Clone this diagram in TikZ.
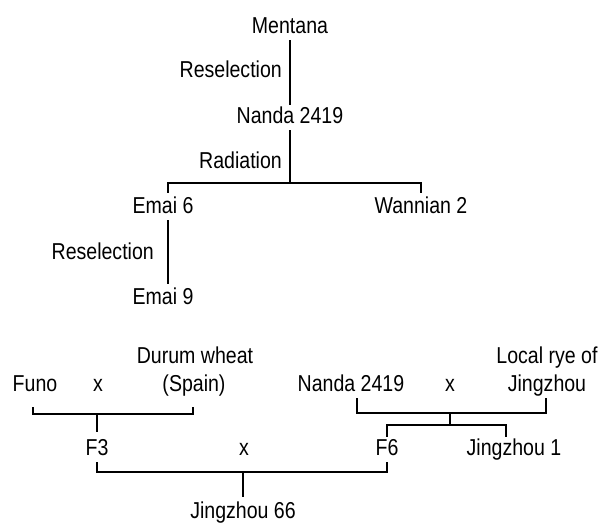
\documentclass[tikz,border=0pt]{standalone}
\usepackage{fontspec}
\setmainfont[FakeStretch=0.85]{Liberation Sans}
\begin{document}
\begin{tikzpicture}[x=1pt,y=-1pt,
  lbl/.style={font=\fontsize{23}{27}\selectfont, inner sep=3pt, text height=15pt, text depth=4pt, anchor=base},
  lble/.style={lbl, anchor=base east},
  link/.style={line width=2pt}]
\useasboundingbox (0,0) rectangle (606,525);
% top pedigree
\node[lbl] (mentana) at (290,33) {Mentana};
\node[lbl] (nanda) at (290,123) {Nanda 2419};
\node[lble] (resel1) at (285,77) {Reselection};
\node[lble] (rad) at (285,168) {Radiation};
\node[lbl] (emai6) at (163,213) {Emai 6};
\node[lbl] (wan2) at (421,213) {Wannian 2};
\node[lble] (resel2) at (157,259) {Reselection};
\node[lbl] (emai9) at (163,304) {Emai 9};
\coordinate (rj) at (290,183);
\draw[link] (mentana.south) -- (nanda.north);
\draw[link] (nanda.south) -- (rj);
\draw[link] ([xshift=5pt,yshift=2pt]emai6.north) |- (rj) -| ([yshift=2pt]wan2.north);
\draw[link] ([xshift=5pt]emai6.south) -- ([xshift=5pt,yshift=2pt]emai9.north);
% bottom pedigree
\node[lbl] (durum) at (195,363) {Durum wheat};
\node[lbl] (spain) at (194,391) {(Spain)};
\node[lbl] (funo) at (35,391) {Funo};
\node[lbl] (x1) at (98,391) {x};
\node[lbl] (nanda2) at (351,391) {Nanda 2419};
\node[lbl] (x2) at (450,391) {x};
\node[lbl] (localrye) at (547,363) {Local rye of};
\node[lbl] (jingzhou) at (547,391) {Jingzhou};
\node[lbl] (f3) at (97,455) {F3};
\node[lbl] (x3) at (244,455) {x};
\node[lbl] (f6) at (387,455) {F6};
\node[lbl] (jz1) at (514,455) {Jingzhou 1};
\node[lbl] (jz66) at (243,518) {Jingzhou 66};
\coordinate (j1) at (97,414);
\coordinate (j2) at (450,413);
\coordinate (j3) at (450,425);
\coordinate (j4) at (243,472);
\draw[link] ([xshift=-2pt,yshift=-9pt]funo.south) |- (j1) -| ([xshift=-1pt,yshift=-9pt]spain.south);
\draw[link] (j1) -- ([yshift=5pt]f3.north);
\draw[link] ([xshift=6pt]nanda2.south) |- (j2) -| ([xshift=-1pt]jingzhou.south);
\draw[link] (j2) -- (j3);
\draw[link] (f6.north) |- (j3) -| ([xshift=-8pt]jz1.north);
\draw[link] (f3.south) |- (j4) -| (f6.south);
\draw[link] (j4) -- ([yshift=3pt]jz66.north);
\end{tikzpicture}
\end{document}
